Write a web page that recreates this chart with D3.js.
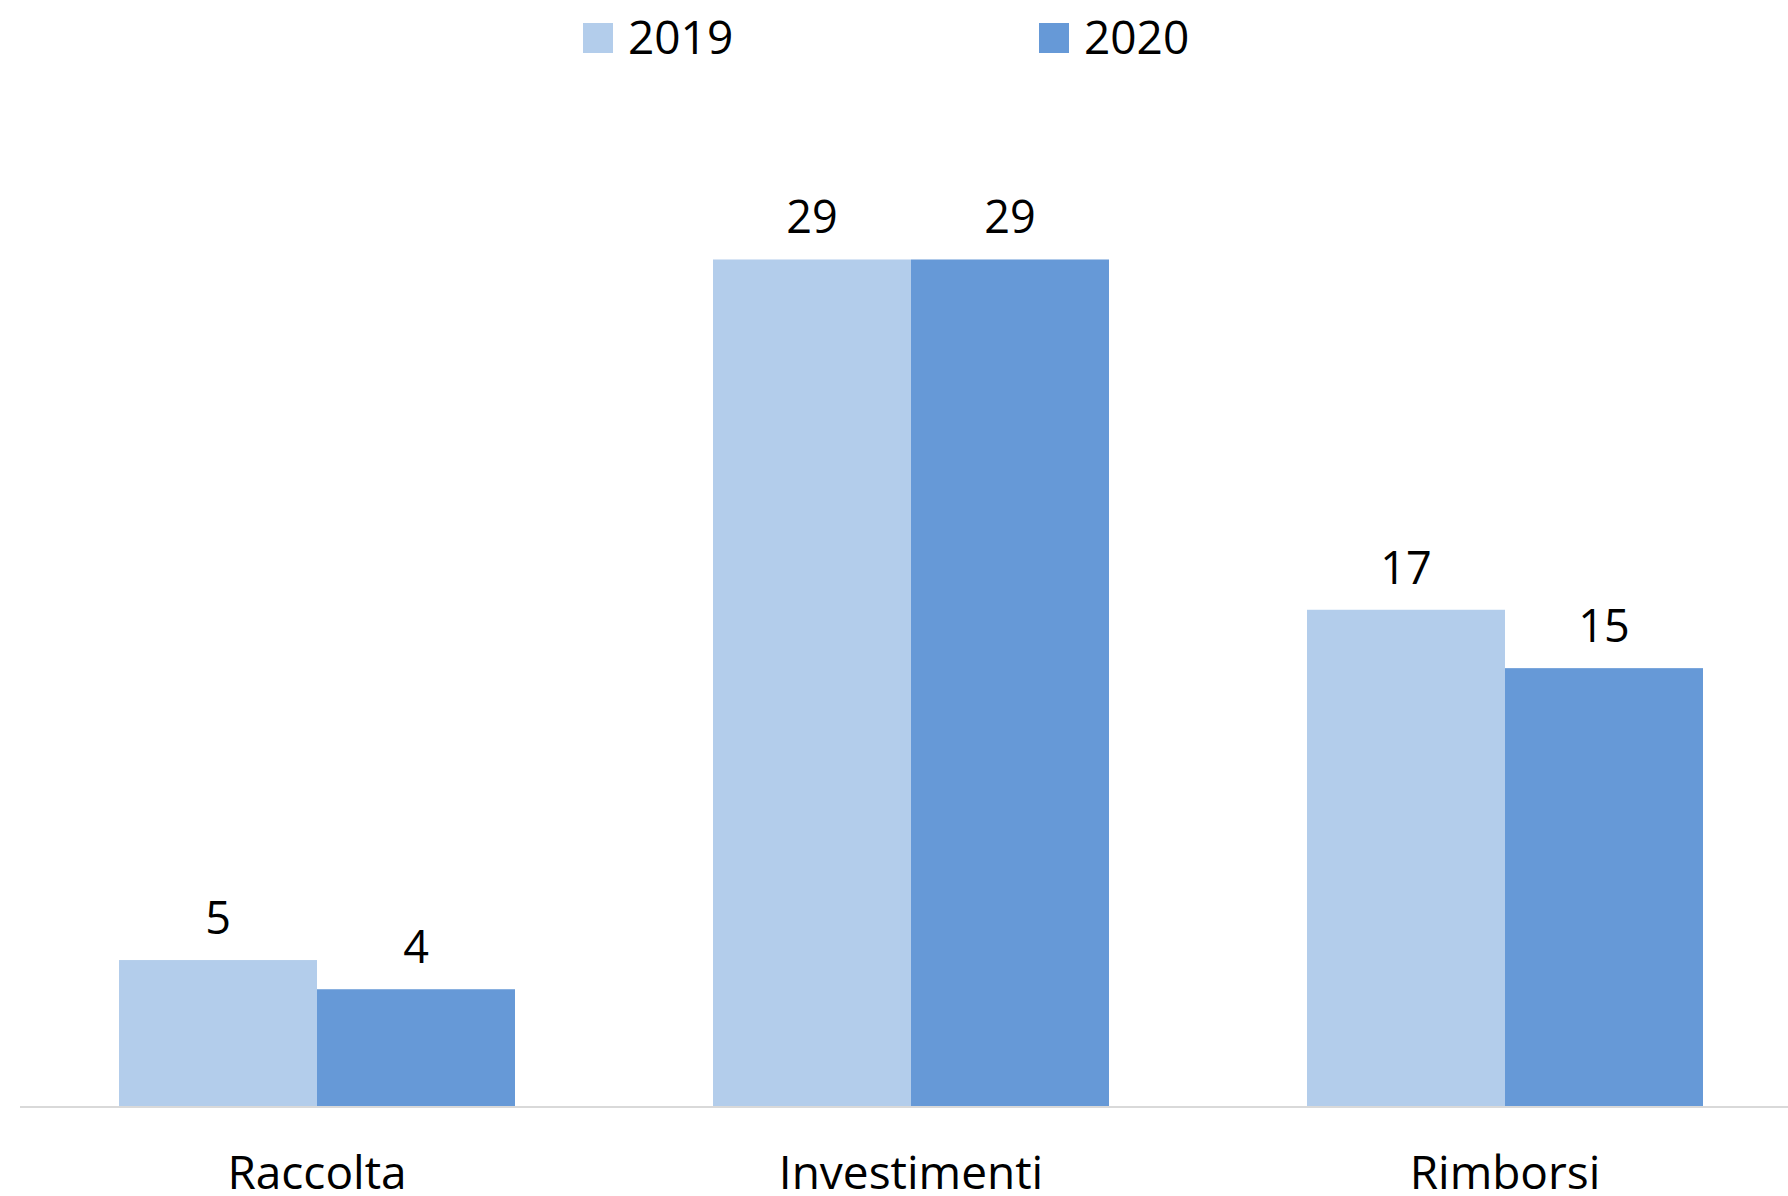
<!doctype html>
<html>
<head>
<meta charset="utf-8">
<title>Raccolta, Investimenti, Rimborsi 2019-2020</title>
<script src="https://d3js.org/d3.v7.min.js"></script>
<style>
  body { margin: 0; background: #fff; }
  text { font-family: "Open Sans", "Noto Sans", sans-serif; fill: #000; }
</style>
</head>
<body>
<div id="chart"></div>
<script>
// data
var categories = ["Raccolta", "Investimenti", "Rimborsi"];
var seriesNames = ["2019", "2020"];
var values2019 = [5, 29, 17];
var values2020 = [4, 29, 15];
var colors = ["#B3CDEB", "#6699D7"];

var W = 1788, H = 1196;
var baseY = 1106;

var svg = d3.select("#chart").append("svg")
  .attr("width", W)
  .attr("height", H);

var x0 = d3.scaleBand()
  .domain(categories)
  .range([20, 1802])
  .paddingInner(1 / 3)
  .paddingOuter(1 / 6);

var x1 = d3.scaleBand()
  .domain(seriesNames)
  .range([0, x0.bandwidth()]);

var y = d3.scaleLinear()
  .domain([0, 35])
  .range([baseY, baseY - 35 * 29.19]);

var rows = categories.map(function(c, i) {
  return { cat: c, vals: [values2019[i], values2020[i]] };
});

// bars
var groups = svg.selectAll(".grp")
  .data(rows)
  .enter().append("g")
  .attr("class", "grp")
  .attr("transform", function(d) { return "translate(" + x0(d.cat) + ",0)"; });

groups.selectAll("rect")
  .data(function(d) { return d.vals.map(function(v, i) { return { s: seriesNames[i], v: v, i: i }; }); })
  .enter().append("rect")
  .attr("x", function(d) { return x1(d.s); })
  .attr("width", x1.bandwidth())
  .attr("y", function(d) { return y(d.v); })
  .attr("height", function(d) { return baseY - y(d.v); })
  .style("fill", function(d) { return colors[d.i]; });

// value labels
groups.selectAll(".val")
  .data(function(d) { return d.vals.map(function(v, i) { return { s: seriesNames[i], v: v }; }); })
  .enter().append("text")
  .attr("class", "val")
  .attr("x", function(d) { return x1(d.s) + x1.bandwidth() / 2; })
  .attr("y", function(d) { return y(d.v) - 26; })
  .attr("text-anchor", "middle")
  .style("font-size", "45px")
  .text(function(d) { return d.v; });

// x axis
var xAxis = svg.append("g")
  .attr("transform", "translate(0," + baseY + ")")
  .call(d3.axisBottom(x0).tickSize(0).tickPadding(50));
xAxis.select(".domain").remove();
xAxis.selectAll("text")
  .style("font-size", "46px")
  .style("font-family", "'Open Sans', sans-serif")
  .attr("fill", "#000");

svg.append("line")
  .attr("x1", 20).attr("x2", W)
  .attr("y1", baseY + 1).attr("y2", baseY + 1)
  .style("stroke", "#D9D9D9")
  .style("stroke-width", 2);

// legend
var legendX = [583, 1039];
var legend = svg.selectAll(".legend")
  .data(seriesNames)
  .enter().append("g")
  .attr("class", "legend")
  .attr("transform", function(d, i) { return "translate(" + legendX[i] + ",23)"; });

legend.append("rect")
  .attr("width", 30)
  .attr("height", 30)
  .style("fill", function(d, i) { return colors[i]; });

legend.append("text")
  .attr("x", 45)
  .attr("y", 31)
  .style("font-size", "46px")
  .text(function(d) { return d; });
</script>
</body>
</html>
